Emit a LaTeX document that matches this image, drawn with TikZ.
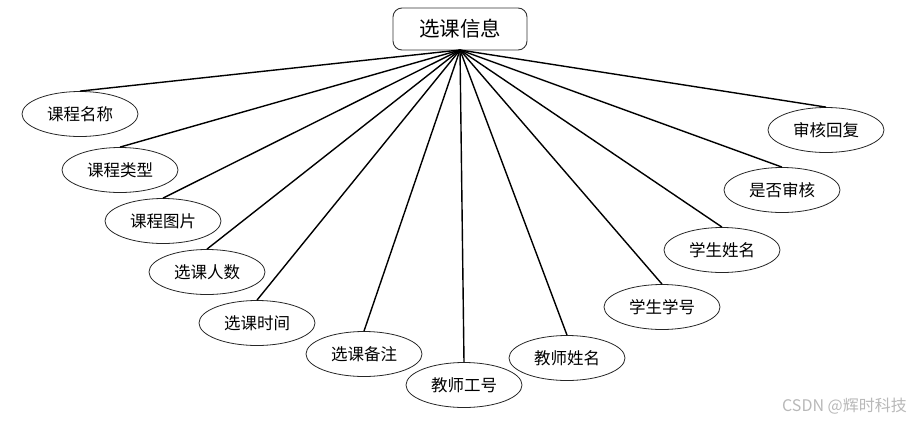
\documentclass[tikz,border=0pt]{standalone}
\usepackage{fontspec}
\setmainfont{Noto Sans CJK SC}
\usetikzlibrary{shapes.geometric}
\begin{document}
\begin{tikzpicture}[x=1pt,y=-1pt,
  attr/.style={ellipse,draw=black!85,line width=0.8pt,minimum width=116pt,minimum height=45pt,inner sep=0pt,font=\fontsize{16.5}{16.5}\selectfont},
  topbox/.style={rectangle,rounded corners=9pt,draw=black!80,line width=0.9pt,minimum width=134pt,minimum height=42pt,font=\fontsize{20.5}{20.5}\selectfont},
  link/.style={line width=1.4pt,black}]
\useasboundingbox (0,0) rectangle (911,421);
\node[topbox] (top) at (460,29) {选课信息};
\coordinate (hub) at (460,50);
\node[attr] (a1) at (80,114) {课程名称};
\node[attr] (a2) at (120,170) {课程类型};
\node[attr] (a3) at (163,221) {课程图片};
\node[attr] (a4) at (207,272) {选课人数};
\node[attr] (a5) at (257,323) {选课时间};
\node[attr] (a6) at (364,354) {选课备注};
\node[attr] (a7) at (464,385) {教师工号};
\node[attr] (a8) at (567,358) {教师姓名};
\node[attr] (a9) at (662,307) {学生学号};
\node[attr] (a10) at (722,250) {学生姓名};
\node[attr] (a11) at (782,190) {是否审核};
\node[attr] (a12) at (826,130) {审核回复};
\foreach \i in {1,...,12} \draw[link] (hub) -- (a\i.north);
\node[font=\fontsize{16}{16}\selectfont,text=black!28,anchor=east,inner sep=0pt] (wm) at (907,406) {CSDN @辉时科技};
\end{tikzpicture}
\end{document}
